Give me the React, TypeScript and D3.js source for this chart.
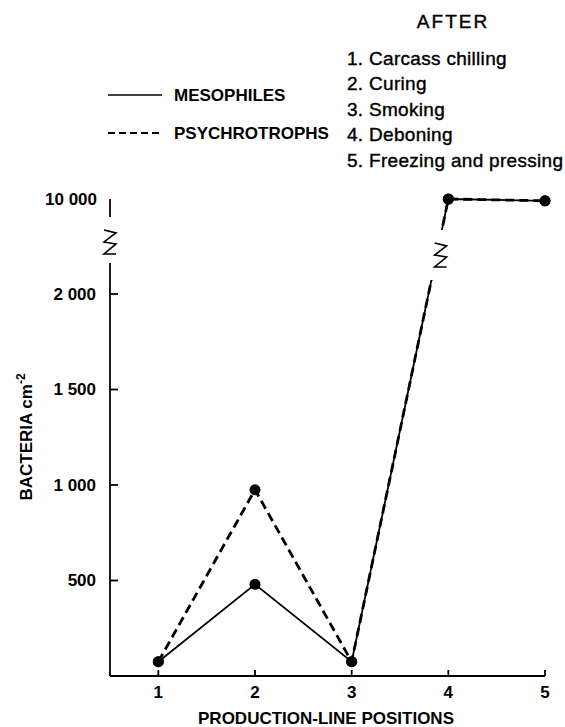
import React, { useEffect, useRef } from "react";
import * as d3 from "d3";

// production-line positions and the counts
const POSITIONS = [1, 2, 3, 4, 5];
const MESOPHILES = [75, 480, 75, 10000, 9850];
const PSYCHROTROPHS = [75, 975, 75, 10000, 9850];
const Y_TICKS = [500, 1000, 1500, 2000];
const Y_TICK_LABELS = ["500", "1 000", "1 500", "2 000"];
const Y_TOP = 10000;
const Y_TOP_LABEL = "10 000";
const STEPS = ["Carcass chilling", "Curing", "Smoking", "Deboning", "Freezing and pressing"];
const SERIES = [
  { name: "MESOPHILES", values: MESOPHILES, dash: null },
  { name: "PSYCHROTROPHS", values: PSYCHROTROPHS, dash: "9,5" },
];

const W = 565;
const H = 727;
const FONT = "'Liberation Sans', Arial, Helvetica, sans-serif";

const App: React.FC = () => {
  const svgRef = useRef<SVGSVGElement>(null);

  useEffect(() => {
    if (!svgRef.current) return;
    const svg = d3.select(svgRef.current);
    svg.selectAll("*").remove();
    svg.attr("font-family", FONT);

    const left = 110;
    const x = d3.scaleLinear().domain([0.5, 5]).range([left, 545]);
    // broken axis: 0-2000 linear, then a jump up to 10 000
    const y = d3.scaleLinear().domain([0, 2000, 10000]).range([676, 294, 199]);
    const y0 = y(0);

    const zig = (cx: number, cy: number) =>
      d3.line()([
        [cx - 6, cy - 12],
        [cx + 6, cy - 9],
        [cx - 6, cy],
        [cx + 6, cy + 2],
        [cx - 6, cy + 12],
        [cx + 6, cy + 12],
      ]);

    const g = svg.append("g");

    // --- y axis (with break) ---
    const axisBreak = [8480, 4620];
    g.append("line")
      .attr("x1", left).attr("x2", left)
      .attr("y1", y(Y_TOP)).attr("y2", y(axisBreak[0]))
      .attr("stroke", "#000").attr("stroke-width", 1.8);
    g.append("line")
      .attr("x1", left).attr("x2", left)
      .attr("y1", y(axisBreak[1])).attr("y2", y0)
      .attr("stroke", "#000").attr("stroke-width", 1.8);
    g.append("path")
      .attr("d", zig(left, (y(axisBreak[0]) + y(axisBreak[1])) / 2 + 2))
      .attr("fill", "none").attr("stroke", "#000").attr("stroke-width", 1.6);

    g.selectAll(".ytick")
      .data(Y_TICKS)
      .enter()
      .append("line")
      .attr("x1", left).attr("x2", left + 8)
      .attr("y1", (d) => y(d)).attr("y2", (d) => y(d))
      .attr("stroke", "#000").attr("stroke-width", 1.8);

    g.selectAll(".ylab")
      .data(Y_TICKS)
      .enter()
      .append("text")
      .attr("x", 96)
      .attr("y", (d) => y(d))
      .attr("dy", "0.35em")
      .attr("text-anchor", "end")
      .attr("font-size", 17)
      .attr("font-weight", "bold")
      .text((_d, i) => Y_TICK_LABELS[i]);
    g.append("text")
      .attr("x", 97)
      .attr("y", y(Y_TOP))
      .attr("dy", "0.35em")
      .attr("text-anchor", "end")
      .attr("font-size", 17)
      .attr("font-weight", "bold")
      .text(Y_TOP_LABEL);

    const yTitle = g.append("text")
      .attr("transform", `translate(32,437) rotate(-90)`)
      .attr("text-anchor", "middle")
      .attr("font-size", 17)
      .attr("font-weight", "bold");
    yTitle.append("tspan").text("BACTERIA cm");
    yTitle.append("tspan").attr("dy", -7).attr("font-size", 12).text("-2");

    // --- x axis ---
    g.append("line")
      .attr("x1", left).attr("x2", x(5))
      .attr("y1", y0).attr("y2", y0)
      .attr("stroke", "#000").attr("stroke-width", 1.8);
    g.selectAll(".xtick")
      .data(POSITIONS)
      .enter()
      .append("line")
      .attr("x1", (d) => x(d)).attr("x2", (d) => x(d))
      .attr("y1", y0).attr("y2", y0 - 6)
      .attr("stroke", "#000").attr("stroke-width", 1.8);
    g.selectAll(".xlab")
      .data(POSITIONS)
      .enter()
      .append("text")
      .attr("x", (d) => x(d))
      .attr("y", 698)
      .attr("text-anchor", "middle")
      .attr("font-size", 17)
      .attr("font-weight", "bold")
      .text((d) => d);
    g.append("text")
      .attr("x", 326)
      .attr("y", 724)
      .attr("text-anchor", "middle")
      .attr("font-size", 17)
      .attr("font-weight", "bold")
      .text("PRODUCTION-LINE POSITIONS");

    // --- series lines ---
    const line = d3
      .line<number>()
      .x((_d, i) => x(POSITIONS[i]))
      .y((d) => y(d));

    SERIES.forEach((s) => {
      g.append("path")
        .attr("d", line(s.values))
        .attr("fill", "none")
        .attr("stroke", "#000")
        .attr("stroke-width", s.dash ? 2.8 : 1.8)
        .attr("stroke-dasharray", s.dash);
    });

    // break on the 3 -> 4 segment
    const lineBreak = [7390, 3180];
    const bTop = y(lineBreak[0]);
    const bBot = y(lineBreak[1]);
    const xAt = (py: number) =>
      x(3) + ((y(PSYCHROTROPHS[2]) - py) / (y(PSYCHROTROPHS[2]) - y(PSYCHROTROPHS[3]))) * (x(4) - x(3));
    g.append("rect")
      .attr("x", xAt((bTop + bBot) / 2) - 14)
      .attr("y", bTop)
      .attr("width", 28)
      .attr("height", bBot - bTop)
      .attr("fill", "#fff");
    g.append("path")
      .attr("d", zig(xAt((bTop + bBot) / 2) + 4, (bTop + bBot) / 2))
      .attr("fill", "none").attr("stroke", "#000").attr("stroke-width", 1.6);

    // --- points ---
    SERIES.forEach((s) => {
      g.selectAll(null)
        .data(s.values)
        .enter()
        .append("circle")
        .attr("cx", (_d, i) => x(POSITIONS[i]))
        .attr("cy", (d) => y(d))
        .attr("r", 5.5)
        .attr("fill", "#000");
    });

    // --- legend ---
    SERIES.forEach((s, i) => {
      const ly = 95 + i * 38;
      g.append("line")
        .attr("x1", 108).attr("x2", 162)
        .attr("y1", ly).attr("y2", ly)
        .attr("stroke", "#000")
        .attr("stroke-width", s.dash ? 2 : 1.5)
        .attr("stroke-dasharray", s.dash ? "7,4" : null);
      g.append("text")
        .attr("x", 174)
        .attr("y", ly)
        .attr("dy", "0.35em")
        .attr("font-size", 17)
        .attr("font-weight", "bold")
        .text(s.name);
    });

    // --- step list ---
    g.append("text")
      .attr("x", 453)
      .attr("y", 28)
      .attr("text-anchor", "middle")
      .attr("font-size", 19)
      .attr("letter-spacing", 2)
      .attr("stroke", "#000")
      .attr("stroke-width", 0.4)
      .text("AFTER");
    g.selectAll(".step")
      .data(STEPS)
      .enter()
      .append("text")
      .attr("x", 347)
      .attr("y", (_d, i) => 58 + i * 25.5)
      .attr("dy", "0.35em")
      .attr("font-size", 19)
      .attr("letter-spacing", 0.3)
      .attr("stroke", "#000")
      .attr("stroke-width", 0.4)
      .text((d, i) => `${i + 1}. ${d}`);
  }, []);

  return (
    <svg
      ref={svgRef}
      width={W}
      height={H}
      viewBox={`0 0 ${W} ${H}`}
      style={{ position: "absolute", left: 0, top: 0, background: "#fff" }}
    ></svg>
  );
};

export default App;
